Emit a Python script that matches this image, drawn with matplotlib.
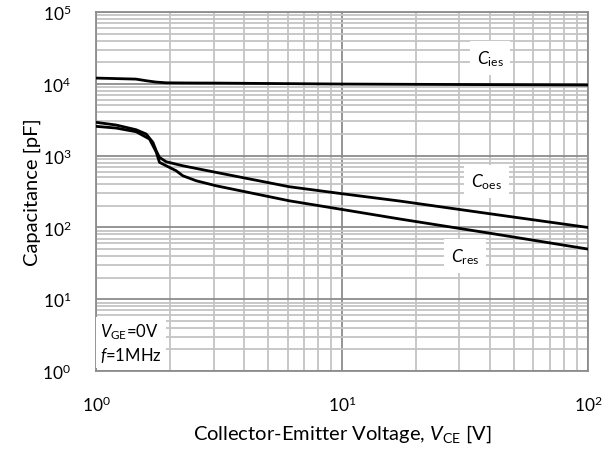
import matplotlib
matplotlib.use("Agg")
import matplotlib.pyplot as plt

plt.rcParams['font.family'] = ['Lato', 'DejaVu Sans']
plt.rcParams['mathtext.fontset'] = 'custom'
plt.rcParams['mathtext.rm'] = 'Lato'
plt.rcParams['mathtext.it'] = 'Lato:italic'

# values
vce_ies = [1.0, 1.45, 1.6, 1.75, 1.93, 2.5, 3.07, 10, 30, 100]
c_ies = [12050, 11660, 11050, 10600, 10350, 10280, 10260, 9950, 9800, 9650]

vce_oes = [1.0, 1.206, 1.454, 1.597, 1.70, 1.754, 1.808, 1.926, 2.25, 3.07, 6.1, 10, 17.2, 40, 100]
c_oes = [2910, 2670, 2295, 2000, 1532, 1170, 946, 822, 723, 585, 369, 295, 233, 155, 100]

vce_res = [1.0, 1.206, 1.454, 1.647, 1.754, 1.808, 1.926, 2.114, 2.25, 2.55, 3.07, 6.1, 10, 17.2, 40, 100]
c_res = [2560, 2423, 2153, 1703, 1122, 807, 723, 616, 525, 447, 381, 235, 178, 131, 83, 50]

fig = plt.figure(figsize=(6.13, 4.52), dpi=100)
ax = fig.add_axes([0.157, 0.177, 0.802, 0.794])

for x, y in [(vce_ies, c_ies), (vce_oes, c_oes), (vce_res, c_res)]:
    ax.plot(x, y, color='black', lw=2.0, zorder=3, solid_joinstyle='round')

ax.set_xscale('log')
ax.set_yscale('log')
ax.set_xlim(1, 100)
ax.set_ylim(1, 1e5)

ax.grid(which='major', color='#8c8c8c', lw=1.3, zorder=0)
ax.grid(which='minor', color='#c4c4c4', lw=1.3, zorder=0)
ax.set_axisbelow(True)
ax.tick_params(which='both', length=0, labelsize=12.5)
ax.tick_params(axis='x', pad=17)
ax.tick_params(axis='y', pad=18)
for s in ax.spines.values():
    s.set_color('#8c8c8c')
    s.set_linewidth(1.3)

bbox = dict(facecolor='white', edgecolor='none', pad=5)
ax.text(40, 23000, r'$\it{C}_{\rm ies}$', fontsize=12.5, ha='center', va='center', bbox=bbox, zorder=4)
ax.text(38.7, 435, r'$\it{C}_{\rm oes}$', fontsize=12.5, ha='center', va='center', bbox=bbox, zorder=4)
ax.text(31.6, 40, r'$\it{C}_{\rm res}$', fontsize=12.5, ha='center', va='center', bbox=bbox, zorder=4)
ax.text(1.04, 1.25, r'$\it{V}_{\rm GE}$=0V' + '\n' + r'$\it{f}$=1MHz', fontsize=12,
        ha='left', va='bottom', linespacing=1.25,
        bbox=dict(facecolor='white', edgecolor='none', pad=3), zorder=4)

ax.set_xlabel(r'Collector-Emitter Voltage, $\it{V}_{\rm CE}$ [V]', fontsize=14.5, labelpad=6)
ax.set_ylabel('Capacitance [pF]', fontsize=14.5, labelpad=1)

fig.savefig('out.png', dpi=100)
